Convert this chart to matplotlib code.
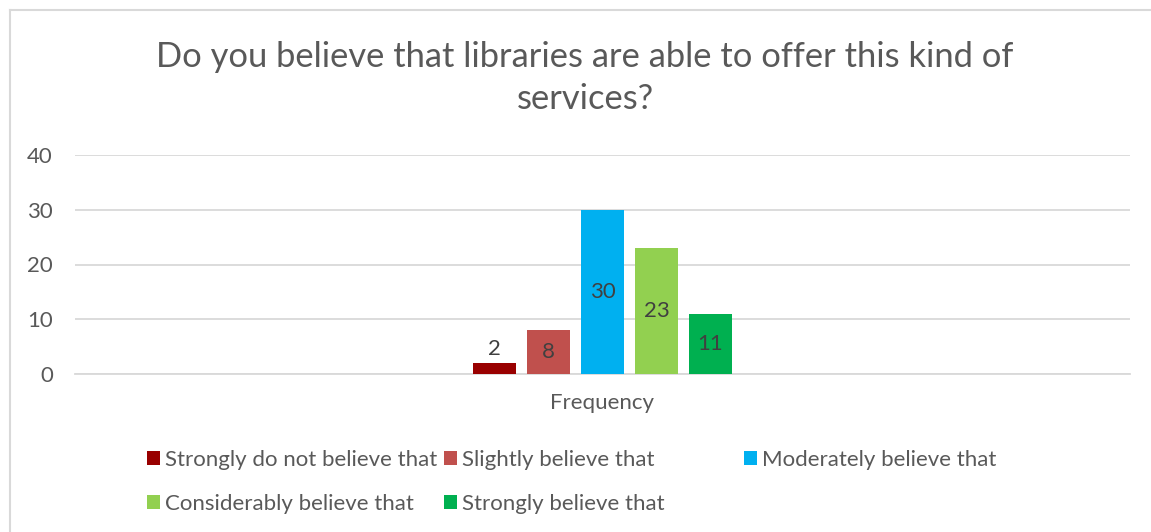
import matplotlib
matplotlib.use("Agg")
import matplotlib.pyplot as plt
from matplotlib.lines import Line2D

plt.rcParams['font.family'] = ['Lato', 'DejaVu Sans']

# survey answers, one bar per answer
labels = ['Strongly do not believe that', 'Slightly believe that',
          'Moderately believe that', 'Considerably believe that',
          'Strongly believe that']
counts = [2, 8, 30, 23, 11]
colors = ['#990000', '#C0504D', '#00B0F0', '#92D050', '#00B050']
category = 'Frequency'
yticks = [0, 10, 20, 30, 40]

text_color = '#595959'
grid_color = '#D9D9D9'

W, H = 1151, 532
fig = plt.figure(figsize=(W / 100, H / 100), dpi=100)
ax = fig.add_axes([75 / W, (H - 374) / H, 1055 / W, 219 / H])

n = len(counts)
bars = []
for i, (lab, v, c) in enumerate(zip(labels, counts, colors)):
    x = i - (n - 1) / 2
    b = ax.bar(x, v, width=0.8, color=c, label=lab, zorder=3)
    bars.append(b)
    if v < 5:
        ax.text(x, v + 0.8, str(v), ha='center', va='bottom',
                fontsize=16, color='#404040')
    else:
        ax.text(x, v / 2, str(v), ha='center', va='center',
                fontsize=16, color='#404040')

half = (1055 / 2) / 54
ax.set_xlim(-half, half)
ax.set_ylim(0, 40)
ax.set_yticks(yticks)
ax.set_xticks([0])
ax.set_xticklabels([category])
ax.tick_params(axis='both', length=0, labelsize=16, labelcolor=text_color)
ax.tick_params(axis='y', pad=16)
ax.tick_params(axis='x', pad=14)
ax.grid(axis='y', color=grid_color, linewidth=1.3, zorder=0)
for s in ['top', 'right', 'left']:
    ax.spines[s].set_visible(False)
ax.spines['bottom'].set_color(grid_color)
ax.spines['bottom'].set_linewidth(1.3)

fig.text(585 / W, 1 - 78 / H,
         'Do you believe that libraries are able to offer this kind of\nservices?',
         ha='center', va='center', fontsize=24.8, color=text_color,
         linespacing=1.42)

# legend laid out in equal-width columns, two rows
col_x = [147, 444, 744]
row_y = [460, 504]
for i, b in enumerate(bars):
    r, c = divmod(i, 3)
    fig.legend(handles=[b], labels=[labels[i]], loc='center left',
               bbox_to_anchor=(col_x[c] / W, 1 - row_y[r] / H),
               frameon=False, fontsize=16, labelcolor=text_color,
               handlelength=0.58, handleheight=0.58, handletextpad=0.25,
               borderaxespad=0, borderpad=0)

# chart border
fig.add_artist(Line2D([10 / W, 1], [1 - 10 / H, 1 - 10 / H],
                      transform=fig.transFigure, color=grid_color, lw=1.5))
fig.add_artist(Line2D([10 / W, 10 / W], [0, 1 - 10 / H],
                      transform=fig.transFigure, color=grid_color, lw=1.5))

fig.savefig('out.png', dpi=100, facecolor='white')
